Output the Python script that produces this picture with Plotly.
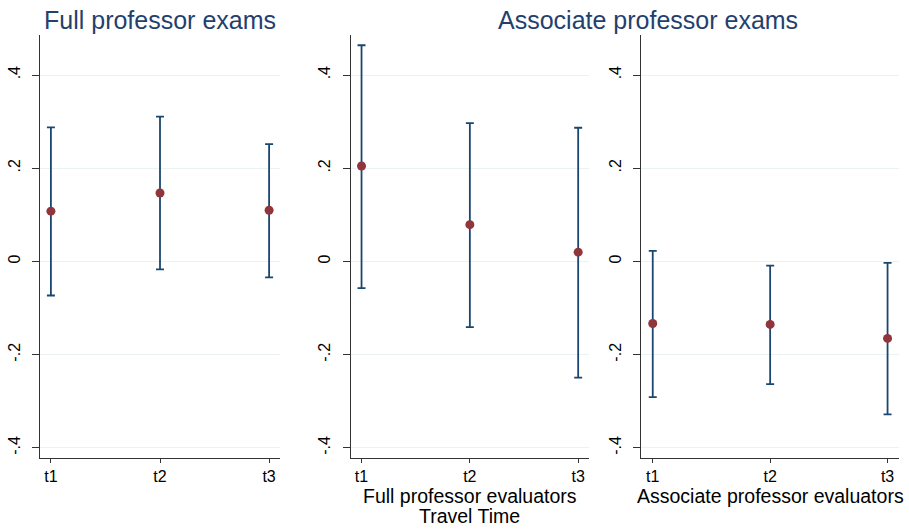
import plotly.graph_objects as go

categories = ["t1", "t2", "t3"]
cat_pos = [1, 2, 3]

# Panel 1: Full professor exams
p1_est = [0.108, 0.147, 0.110]
p1_hi = [0.288, 0.311, 0.252]
p1_lo = [-0.073, -0.017, -0.034]

# Panel 2: Associate professor exams, full professor evaluators
p2_est = [0.205, 0.079, 0.020]
p2_hi = [0.464, 0.297, 0.287]
p2_lo = [-0.057, -0.141, -0.249]

# Panel 3: Associate professor exams, associate professor evaluators
p3_est = [-0.133, -0.135, -0.165]
p3_hi = [0.023, -0.009, -0.003]
p3_lo = [-0.291, -0.263, -0.328]

y_tickvals = [-0.4, -0.2, 0, 0.2, 0.4]
y_ticktext = ["-.4", "-.2", "0", ".2", ".4"]

panels = [(p1_est, p1_hi, p1_lo), (p2_est, p2_hi, p2_lo), (p3_est, p3_hi, p3_lo)]

BAR = "#1a476f"
MK = "#90353b"
TITLE = "#243f6e"
FONT = "Liberation Sans, Arial, sans-serif"

fig = go.Figure()
domains = [(40/909, 280/909), (350.7/909, 589/909), (641/909, 899.3/909)]
ydom = (1 - 457.7/529, 1 - 35/529)

for i, (est, hi, lo) in enumerate(panels):
    n = "" if i == 0 else str(i + 1)
    fig.add_trace(go.Scatter(
        x=cat_pos, y=est, mode="markers",
        marker=dict(color=MK, size=9),
        error_y=dict(type="data", symmetric=False,
                     array=[h - e for h, e in zip(hi, est)],
                     arrayminus=[e - l for l, e in zip(lo, est)],
                     color=BAR, thickness=1.8, width=4),
        xaxis="x" + n, yaxis="y" + n, showlegend=False))

layout = dict(
    width=909, height=529,
    margin=dict(l=0, r=0, t=0, b=0),
    paper_bgcolor="white", plot_bgcolor="white",
    font=dict(family=FONT, color="black", size=16),
)
for i in range(3):
    n = "" if i == 0 else str(i + 1)
    layout["xaxis" + n] = dict(
        domain=list(domains[i]), anchor="y" + n, range=[0.9, 3.1],
        tickvals=cat_pos, ticktext=categories, showgrid=False, zeroline=False,
        showline=True, linecolor="#333333", linewidth=1.2,
        ticks="outside", ticklen=4, tickcolor="#333333", ticklabelstandoff=0,
        tickfont=dict(size=16, family=FONT, color="black"))
    layout["yaxis" + n] = dict(
        domain=list(ydom), anchor="x" + n, range=[-0.421, 0.486],
        tickvals=y_tickvals, ticktext=y_ticktext, tickangle=-90,
        showgrid=True, gridcolor="#eaf2f3", gridwidth=1, zeroline=False,
        showline=True, linecolor="#333333", linewidth=1.2,
        ticks="outside", ticklen=7, tickcolor="#333333", ticklabelstandoff=6,
        tickfont=dict(size=16, family=FONT, color="black"))

layout["annotations"] = [
    dict(text="Full professor exams", x=160/909, y=1 - 20/529, xref="paper", yref="paper",
         showarrow=False, font=dict(size=25, color=TITLE, family=FONT), xanchor="center", yanchor="middle"),
    dict(text="Associate professor exams", x=648/909, y=1 - 20/529, xref="paper", yref="paper",
         showarrow=False, font=dict(size=25, color=TITLE, family=FONT), xanchor="center", yanchor="middle"),
    dict(text="Full professor evaluators", x=470/909, y=1 - 496/529, xref="paper", yref="paper",
         showarrow=False, font=dict(size=19.5, color="black", family=FONT), xanchor="center", yanchor="middle"),
    dict(text="Travel Time", x=470/909, y=1 - 516/529, xref="paper", yref="paper",
         showarrow=False, font=dict(size=19.5, color="black", family=FONT), xanchor="center", yanchor="middle"),
    dict(text="Associate professor evaluators", x=770/909, y=1 - 496/529, xref="paper", yref="paper",
         showarrow=False, font=dict(size=19.5, color="black", family=FONT), xanchor="center", yanchor="middle"),
]

fig.update_layout(**layout)
fig.write_html("out.html", config={"displayModeBar": False},
               post_script="document.body.style.margin='0';document.body.style.overflow='hidden';")
